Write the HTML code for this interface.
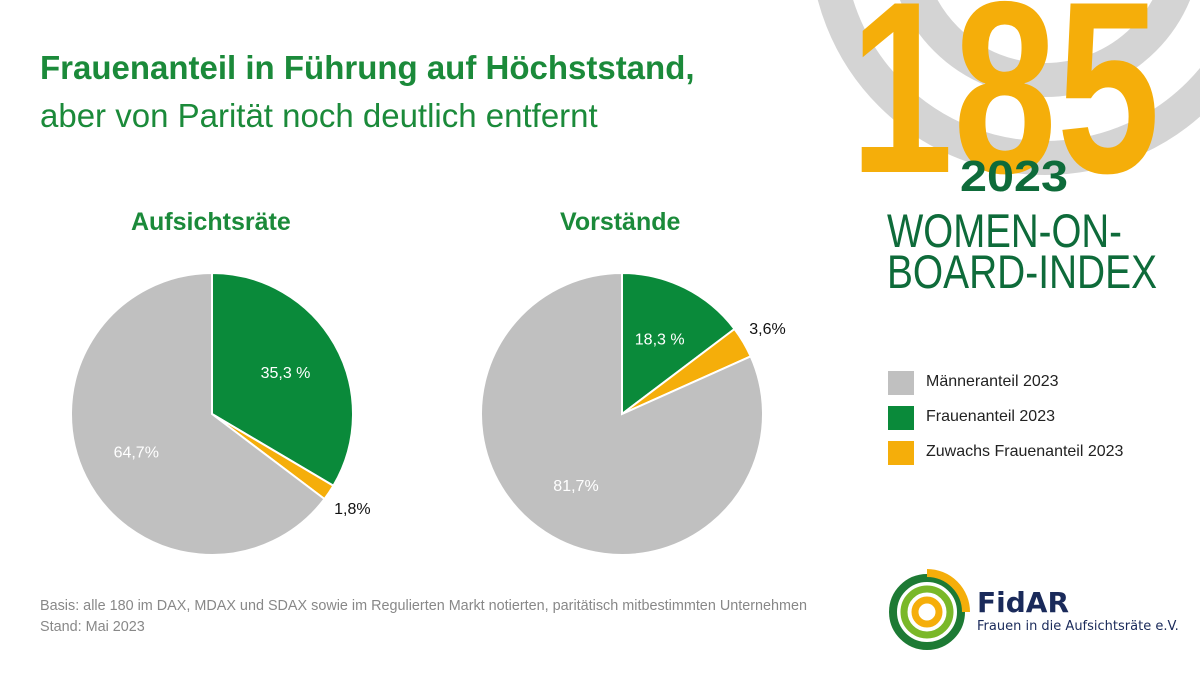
<!DOCTYPE html>
<html><head><meta charset="utf-8"><style>
html,body{margin:0;padding:0;background:#fff;}
body{width:1200px;height:675px;position:relative;overflow:hidden;font-family:"Liberation Sans",sans-serif;}
.abs{position:absolute;white-space:nowrap;}
</style></head><body>
<svg width="1200" height="675" style="position:absolute;left:0;top:0">
  <g fill="none" stroke="#d4d4d4">
    <circle cx="1045" cy="-60" r="218" stroke-width="34"/>
    <circle cx="1045" cy="-60" r="140" stroke-width="34"/>
  </g>
  <text x="1005" y="172" font-family="Liberation Sans, sans-serif" font-weight="bold" font-size="245" fill="#f5ae0a" text-anchor="middle" textLength="310" lengthAdjust="spacingAndGlyphs">185</text>
  <text x="1014" y="191" font-family="Liberation Sans, sans-serif" font-weight="bold" font-size="44" fill="#0e6b3a" text-anchor="middle" textLength="108" lengthAdjust="spacingAndGlyphs">2023</text>
  <text x="887" y="247" font-family="Liberation Sans, sans-serif" font-size="47" fill="#0e6b3a" textLength="235" lengthAdjust="spacingAndGlyphs">WOMEN-ON-</text>
  <text x="887" y="288" font-family="Liberation Sans, sans-serif" font-size="47" fill="#0e6b3a" textLength="270" lengthAdjust="spacingAndGlyphs">BOARD-INDEX</text>
  <g id="pies"></g>
  <g fill="none">
    <circle cx="927" cy="612" r="34" stroke="#1d7a34" stroke-width="8"/>
    <circle cx="927" cy="612" r="23" stroke="#7ab829" stroke-width="7"/>
    <circle cx="927" cy="612" r="12" stroke="#f5ae0a" stroke-width="7"/>
    <path d="M927 573 A39 39 0 0 1 966 612" stroke="#f5ae0a" stroke-width="8"/>
  </g>
  <text x="977" y="612" font-family="DejaVu Sans, sans-serif" font-weight="bold" font-size="28" fill="#1a2a5a">FidAR</text>
  <text x="977" y="630" font-family="DejaVu Sans, sans-serif" font-size="13" fill="#1a2a5a">Frauen in die Aufsichtsräte e.V.</text>
</svg>
<div class="abs" style="left:40px;top:49px;font-size:33px;font-weight:bold;color:#1b8a3a;">Frauenanteil in Führung auf Höchststand,</div>
<div class="abs" style="left:40px;top:97px;font-size:33px;color:#1b8a3a;">aber von Parität noch deutlich entfernt</div>
<div class="abs" style="left:131px;top:208px;font-size:25px;font-weight:bold;color:#1b8a3a;">Aufsichtsräte</div>
<div class="abs" style="left:560px;top:208px;font-size:25px;font-weight:bold;color:#1b8a3a;">Vorstände</div>
<div>
  <div class="abs" style="left:888px;top:371px;width:26px;height:24px;background:#c0c0c0"></div>
  <div class="abs" style="left:926px;top:373px;font-size:16px;color:#222">Männeranteil 2023</div>
  <div class="abs" style="left:888px;top:406px;width:26px;height:24px;background:#0a8a3a"></div>
  <div class="abs" style="left:926px;top:408px;font-size:16px;color:#222">Frauenanteil 2023</div>
  <div class="abs" style="left:888px;top:441px;width:26px;height:24px;background:#f5ae0a"></div>
  <div class="abs" style="left:926px;top:443px;font-size:16px;color:#222">Zuwachs Frauenanteil 2023</div>
</div>
<div class="abs" style="left:40px;top:598px;font-size:14.4px;color:#888;">Basis: alle 180 im DAX, MDAX und SDAX sowie im Regulierten Markt notierten, paritätisch mitbestimmten Unternehmen</div>
<div class="abs" style="left:40px;top:619px;font-size:14.4px;color:#888;">Stand: Mai 2023</div>
<script>
const pieNames = ['aufsichtsraete', 'vorstaende'];
const greenValues = [33.5, 14.7];
const orangeValues = [1.8, 3.6];
const grayValues = [64.7, 81.7];
const greenLabels = ['35,3 %', '18,3 %'];
const orangeLabels = ['1,8%', '3,6%'];
const grayLabels = ['64,7%', '81,7%'];

const NS = 'http://www.w3.org/2000/svg';
const g = document.getElementById('pies');
const centers = [[212, 414], [622, 414]];
const R = 141;
function pt(cx, cy, r, frac) { const a = frac * 2 * Math.PI; return [cx + r * Math.sin(a), cy - r * Math.cos(a)]; }
function slice(cx, cy, f0, f1, color) {
  const p = document.createElementNS(NS, 'path');
  const [x0, y0] = pt(cx, cy, R, f0), [x1, y1] = pt(cx, cy, R, f1);
  const large = (f1 - f0) > 0.5 ? 1 : 0;
  p.setAttribute('d', `M${cx} ${cy} L${x0} ${y0} A${R} ${R} 0 ${large} 1 ${x1} ${y1} Z`);
  p.setAttribute('fill', color); p.setAttribute('stroke', '#fff'); p.setAttribute('stroke-width', '2');
  return p;
}
function label(x, y, txt, color) {
  const t = document.createElementNS(NS, 'text');
  t.setAttribute('x', x); t.setAttribute('y', y); t.setAttribute('text-anchor', 'middle');
  t.setAttribute('font-family', 'Liberation Sans, sans-serif'); t.setAttribute('font-size', '16');
  t.setAttribute('fill', color); t.textContent = txt; return t;
}
pieNames.forEach((n, i) => {
  const [cx, cy] = centers[i];
  const tot = greenValues[i] + orangeValues[i] + grayValues[i];
  const fg = greenValues[i] / tot, fo = orangeValues[i] / tot;
  const s1 = slice(cx, cy, 0, fg, '#0a8a3a');
  
  
  g.appendChild(s1);
  const s2 = slice(cx, cy, fg, fg + fo, '#f5ae0a');
  
  
  g.appendChild(s2);
  const s3 = slice(cx, cy, fg + fo, 1, '#c0c0c0');
  
  
  g.appendChild(s3);
  let [lx, ly] = pt(cx, cy, R * 0.6, fg / 2);
  const l1 = label(lx, ly + 6, greenLabels[i], '#fff');
  
  
  g.appendChild(l1);
  [lx, ly] = pt(cx, cy, R + 28, fg + fo / 2);
  const l2 = label(lx, ly + 6, orangeLabels[i], '#111');
  
  
  g.appendChild(l2);
  [lx, ly] = pt(cx, cy, R * 0.6, fg + fo + (1 - fg - fo) / 2);
  const l3 = label(lx, ly + 6, grayLabels[i], '#fff');
  
  
  g.appendChild(l3);
});
</script>
</body></html>
